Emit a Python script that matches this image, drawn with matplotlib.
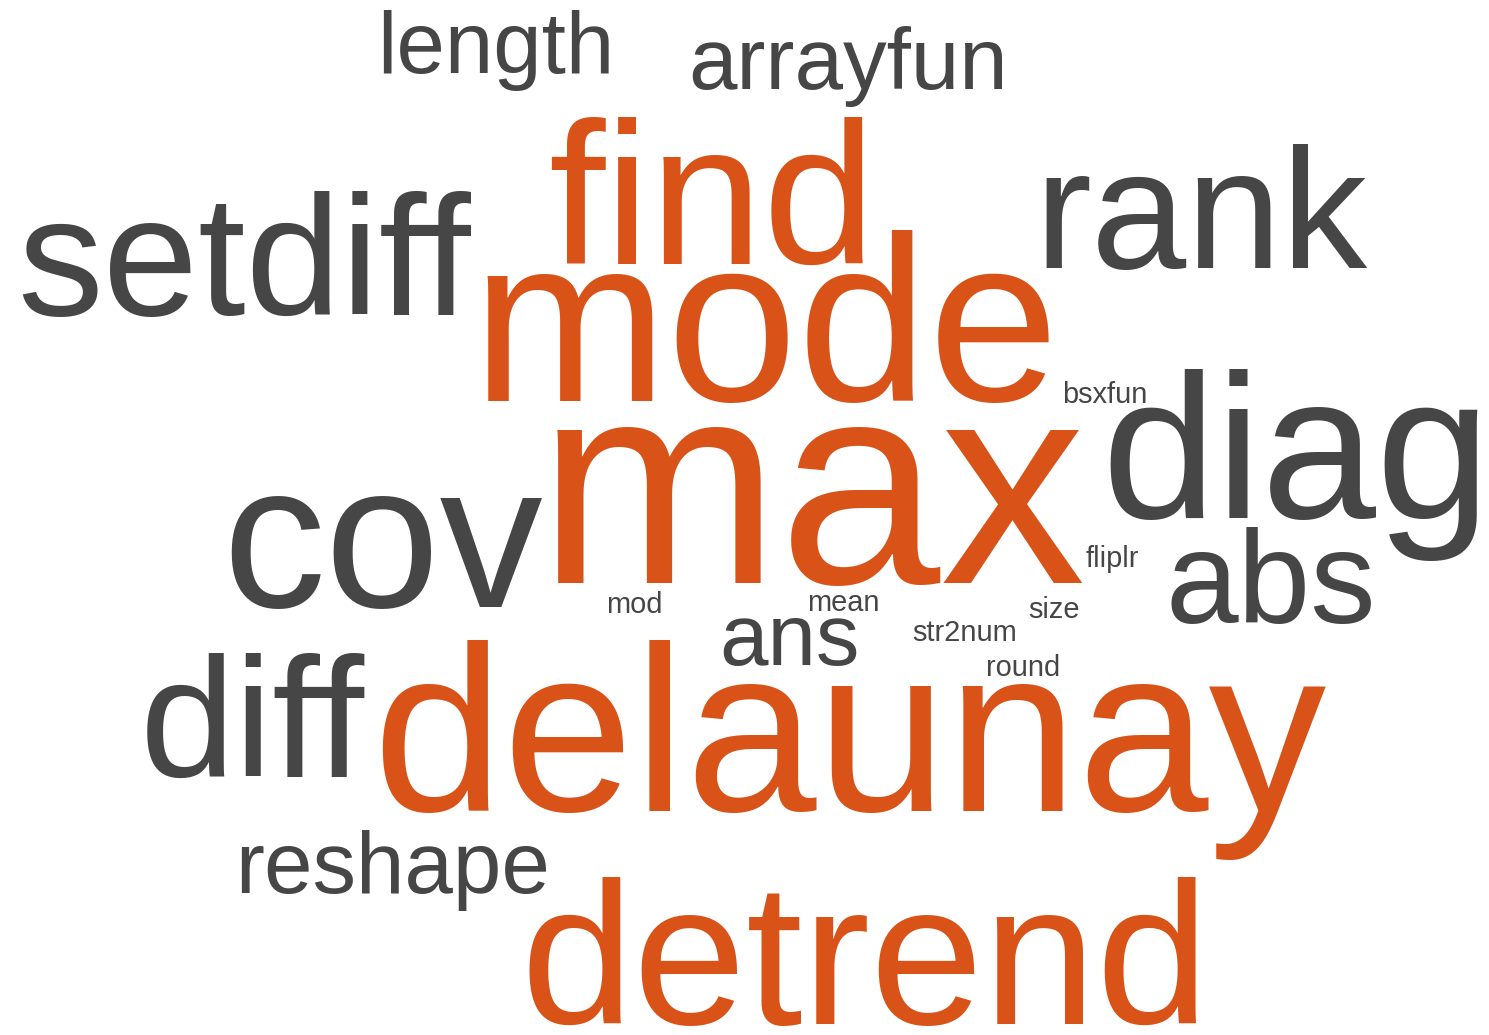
import matplotlib.pyplot as plt

# Word cloud data: words, their weights, and which ones are highlighted
words = ["max", "mode", "delaunay", "find", "cov", "diag", "detrend",
         "rank", "setdiff", "diff", "abs", "length", "arrayfun", "ans",
         "reshape", "bsxfun", "fliplr", "size", "mod", "mean", "str2num",
         "round"]
weights = [10, 8.1, 8.1, 7.0, 7.1, 7.1, 7.0,
           5.9, 5.9, 5.9, 4.5, 3, 3, 3,
           3, 1, 1, 1, 1, 1, 1,
           1]
highlight = ["max", "mode", "delaunay", "find", "detrend"]

# Layout (pixel positions: word centre x, baseline y)
layout_x = [812, 765, 849, 712, 383, 1296, 865,
            1201, 244, 252, 1271, 496, 848, 789,
            393, 1105, 1112, 1054, 634, 843, 965,
            1023]
layout_y = [583, 401, 811, 264, 607, 518, 1024,
            268, 315, 777, 623, 73, 89, 665,
            893, 403, 567, 618, 613, 611, 641,
            676]

orange = "#D95319"
gray = "#464646"
size_scale = 20.9  # points per weight unit

fig = plt.figure(figsize=(14.89, 10.35), dpi=100)
ax = fig.add_axes([0, 0, 1, 1])
ax.set_xlim(0, 1489)
ax.set_ylim(1035, 0)
ax.axis("off")

for w, wt, x, y in zip(words, weights, layout_x, layout_y):
    color = orange if w in highlight else gray
    ax.text(x, y, w, fontsize=wt * size_scale, color=color,
            family="Liberation Sans", ha="center", va="baseline")

fig.savefig("out.png", dpi=100, facecolor="white")
